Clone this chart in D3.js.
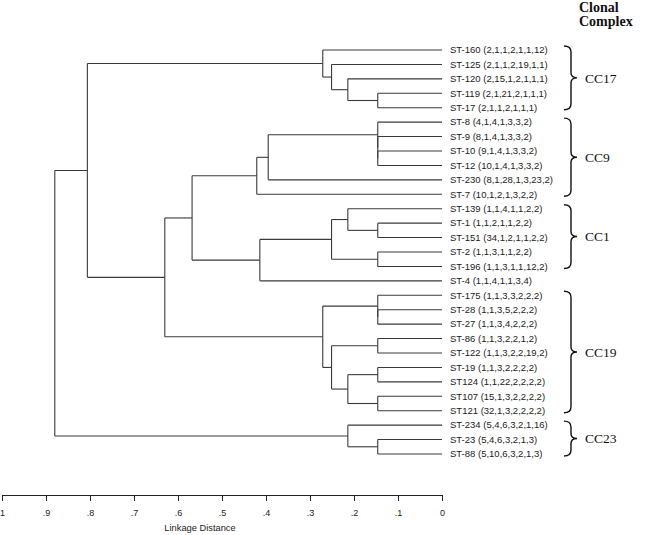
<!DOCTYPE html>
<html>
<head>
<meta charset="utf-8">
<script src="https://cdn.jsdelivr.net/npm/d3@7"></script>
<style>
  body { margin: 0; background: #fff; }
  .leaf { font: 9.5px "Liberation Sans", Arial, sans-serif; fill: #222; }
  .cc { font: 13.5px "Liberation Serif", "Times New Roman", serif; fill: #111; }
  .head { font: bold 14px "Liberation Serif", "Times New Roman", serif; fill: #111; }
  .axis text { font: 9px "Liberation Sans", Arial, sans-serif; fill: #222; }
</style>
</head>
<body>
<svg id="chart" width="645" height="535"></svg>
<script>
// sequence types, top to bottom, with their allelic profiles
var leaves = ["ST-160","ST-125","ST-120","ST-119","ST-17",
  "ST-8","ST-9","ST-10","ST-12","ST-230","ST-7",
  "ST-139","ST-1","ST-151","ST-2","ST-196","ST-4",
  "ST-175","ST-28","ST-27","ST-86","ST-122","ST-19","ST124","ST107","ST121",
  "ST-234","ST-23","ST-88"];
var profiles = ["(2,1,1,2,1,1,12)","(2,1,1,2,19,1,1)","(2,15,1,2,1,1,1)","(2,1,21,2,1,1,1)","(2,1,1,2,1,1,1)",
  "(4,1,4,1,3,3,2)","(8,1,4,1,3,3,2)","(9,1,4,1,3,3,2)","(10,1,4,1,3,3,2)","(8,1,28,1,3,23,2)","(10,1,2,1,3,2,2)",
  "(1,1,4,1,1,2,2)","(1,1,2,1,1,2,2)","(34,1,2,1,1,2,2)","(1,1,3,1,1,2,2)","(1,1,3,1,1,12,2)","(1,1,4,1,1,3,4)",
  "(1,1,3,3,2,2,2)","(1,1,3,5,2,2,2)","(1,1,3,4,2,2,2)","(1,1,3,2,2,1,2)","(1,1,3,2,2,19,2)","(1,1,3,2,2,2,2)","(1,1,22,2,2,2,2)","(15,1,3,2,2,2,2)","(32,1,3,2,2,2,2)",
  "(5,4,6,3,2,1,16)","(5,4,6,3,2,1,3)","(5,10,6,3,2,1,3)"];

// merges: [node id, upper child, lower child, linkage distance]
var merges = [
  ["a1","ST-119","ST-17",0.146], ["a2","ST-120","a1",0.214], ["a3","ST-125","a2",0.251], ["a4","ST-160","a3",0.271],
  ["b1","ST-10","ST-12",0.146], ["b2","ST-9","b1",0.146], ["b3","ST-8","b2",0.146], ["b4","b3","ST-230",0.395], ["b5","b4","ST-7",0.421],
  ["c1","ST-1","ST-151",0.146], ["c2","ST-139","c1",0.214], ["c3","ST-2","ST-196",0.146], ["c4","c2","c3",0.251], ["c5","c4","ST-4",0.414],
  ["e1","b5","c5",0.568],
  ["d1","ST-28","ST-27",0.146], ["d2","ST-175","d1",0.146], ["d3","ST-86","ST-122",0.146], ["d4","ST-19","ST124",0.146],
  ["d5","ST107","ST121",0.146], ["d6","d4","d5",0.214], ["d7","d3","d6",0.251], ["d8","d2","d7",0.271],
  ["e2","e1","d8",0.630], ["g","a4","e2",0.806],
  ["f1","ST-23","ST-88",0.146], ["f2","ST-234","f1",0.214],
  ["root","g","f2",0.880]
];

// clonal complexes: [name, first ST, last ST]
var complexes = [["CC17","ST-160","ST-17"],["CC9","ST-8","ST-7"],["CC1","ST-139","ST-196"],["CC19","ST-175","ST121"],["CC23","ST-234","ST-88"]];

var tickValues = [1,0.9,0.8,0.7,0.6,0.5,0.4,0.3,0.2,0.1,0];
var tickLabels = ["1",".9",".8",".7",".6",".5",".4",".3",".2",".1","0"];

var svg = d3.select("#chart");

var x = d3.scaleLinear().domain([1,0]).range([2,442]);
var y = d3.scalePoint().domain(leaves).range([50,454]);

// build nested tree from merges
var nodes = {};
leaves.forEach(function(l){ nodes[l] = {name: l, dist: 0}; });
merges.forEach(function(m){
  nodes[m[0]] = {name: m[0], dist: m[3], children: [nodes[m[1]], nodes[m[2]]]};
});
var root = d3.hierarchy(nodes["root"]);
root.eachAfter(function(d){
  d.px = x(d.data.dist);
  d.py = d.children ? d3.mean(d.children, function(c){ return c.py; }) : y(d.data.name);
});

var g = svg.append("g")
  .attr("fill","none")
  .attr("stroke","#3a3a3a")
  .attr("stroke-width",1.1);

root.descendants().filter(function(d){ return d.children; }).forEach(function(d){
  var ys = d.children.map(function(c){ return c.py; });
  g.append("line").attr("x1",d.px).attr("x2",d.px)
    .attr("y1",d3.min(ys)).attr("y2",d3.max(ys));
  d.children.forEach(function(c){
    g.append("line").attr("x1",d.px).attr("x2",c.px)
      .attr("y1",c.py).attr("y2",c.py);
  });
});

svg.selectAll(".leaf")
  .data(leaves)
  .enter().append("text")
  .attr("class","leaf")
  .attr("x",450)
  .attr("y",function(d){ return y(d); })
  .attr("dy","0.35em")
  .text(function(d,i){ return d + " " + profiles[i]; });

// braces
function brace(y0, y1){
  var xl = 564, xv = 571, xt = 577, ym = (y0 + y1) / 2;
  return "M"+xl+","+y0+" Q"+xv+","+y0+" "+xv+","+(y0+6)+
    " L"+xv+","+(ym-5)+" Q"+xv+","+ym+" "+xt+","+ym+
    " Q"+xv+","+ym+" "+xv+","+(ym+5)+
    " L"+xv+","+(y1-6)+" Q"+xv+","+y1+" "+xl+","+y1;
}
complexes.forEach(function(c){
  var y0 = y(c[1]) - 4, y1 = y(c[2]) + 2;
  svg.append("path").attr("d",brace(y0,y1))
    .attr("fill","none").attr("stroke","#111").attr("stroke-width",1.4);
  svg.append("text").attr("class","cc")
    .attr("x",585).attr("y",(y0+y1)/2).attr("dy","0.35em")
    .text(c[0]);
});

svg.append("text").attr("class","head").attr("x",579).attr("y",12).text("Clonal");
svg.append("text").attr("class","head").attr("x",579).attr("y",26).text("Complex");

var axis = d3.axisBottom(x)
  .tickValues(tickValues)
  .tickFormat(function(d,i){ return tickLabels[i]; })
  .tickSize(6).tickSizeOuter(0).tickPadding(9);

svg.append("g").attr("class","axis")
  .attr("transform","translate(0,495)")
  .call(axis)
  .call(function(a){ a.selectAll("path,line").attr("stroke","#222"); });

svg.append("text")
  .attr("x",200).attr("y",531)
  .attr("text-anchor","middle")
  .style("font","9.3px 'Liberation Sans', Arial, sans-serif")
  .style("fill","#222")
  .text("Linkage Distance");
</script>
</body>
</html>
